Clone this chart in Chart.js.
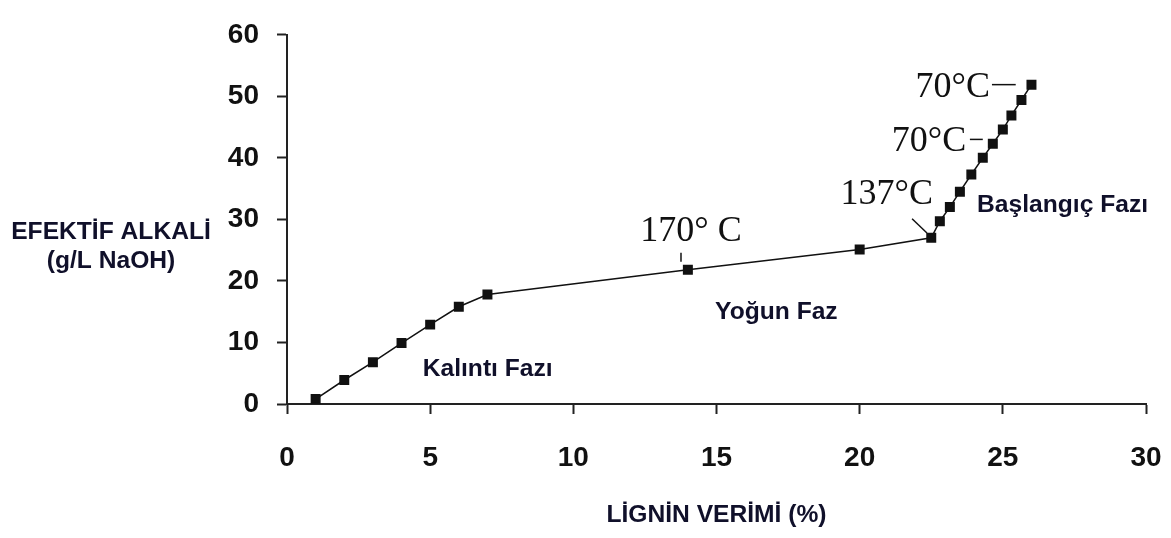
<!DOCTYPE html>
<html>
<head>
<meta charset="utf-8">
<script src="https://cdn.jsdelivr.net/npm/chart.js@4.4.0/dist/chart.umd.min.js"></script>
<style>
  html, body { margin: 0; padding: 0; background: #fff; }
  #wrap { width: 1171px; height: 538px; position: relative; }
</style>
</head>
<body>
<div id="wrap"><canvas id="chart"></canvas></div>
<script>
// --------------------------
// data
// --------------------------
const ligninYield = [1, 2, 3, 4, 5, 6, 7, 14, 20, 22.5, 22.8, 23.15, 23.5, 23.9, 24.3, 24.65, 25.0, 25.3, 25.65, 26.0];
const effAlkali   = [0.8, 3.9, 6.8, 9.9, 12.9, 15.8, 17.8, 21.8, 25.1, 27.0, 29.7, 32.0, 34.5, 37.3, 40.0, 42.3, 44.6, 46.9, 49.4, 51.9];

const xTicks = [0, 5, 10, 15, 20, 25, 30];
const yTicks = [0, 10, 20, 30, 40, 50, 60];

const xTitle = "LİGNİN VERİMİ (%)";
const yTitle = ["EFEKTİF ALKALİ", "(g/L NaOH)"];

// temperature labels (serif) and phase labels (bold sans), in data units
const tempLabels = ["70°C", "70°C", "137°C", "170° C"];
const tempX      = [24.55, 23.72, 22.56, 14.11];
const tempY      = [51.4, 42.7, 34.1, 28.1];
const tempAlign  = ["right", "right", "right", "center"];

// little leader strokes next to the temperature labels: [x1, y1, x2, y2]
const leaders = [
  [24.62, 51.9, 25.45, 51.9],
  [23.85, 43.0, 24.3, 43.0],
  [21.83, 30.1, 22.35, 27.8],
  [13.76, 24.6, 13.76, 23.1]
];

const phaseLabels = ["Başlangıç Fazı", "Yoğun Faz", "Kalıntı Fazı"];
const phaseX      = [24.1, 14.95, 4.74];
const phaseY      = [32.3, 14.8, 5.65];

const SANS = "'Liberation Sans', Arial, sans-serif";

// wide bold text, the reference glyphs are a bit stretched
function wideText(ctx, text, x, y, align) {
  const k = 1.07;
  ctx.save();
  ctx.translate(x, y);
  ctx.scale(k, 1);
  ctx.textAlign = align;
  ctx.fillText(text, 0, 0);
  ctx.restore();
}

// ==========================
// annotation plugin
// ==========================
const notes = {
  id: "notes",
  afterDatasetsDraw(chart) {
    const { ctx, scales, chartArea } = chart;
    const sx = scales.x, sy = scales.y;
    ctx.save();

    ctx.fillStyle = "#111";
    ctx.font = "36px 'Liberation Serif', 'DejaVu Serif', serif";
    ctx.textBaseline = "middle";
    tempLabels.forEach((t, i) => {
      ctx.textAlign = tempAlign[i];
      ctx.fillText(t, sx.getPixelForValue(tempX[i]), sy.getPixelForValue(tempY[i]));
    });

    ctx.strokeStyle = "#111";
    ctx.lineWidth = 1.5;
    leaders.forEach(l => {
      ctx.beginPath();
      ctx.moveTo(sx.getPixelForValue(l[0]), sy.getPixelForValue(l[1]));
      ctx.lineTo(sx.getPixelForValue(l[2]), sy.getPixelForValue(l[3]));
      ctx.stroke();
    });

    ctx.fillStyle = "#10102a";
    ctx.font = "bold 23px " + SANS;
    phaseLabels.forEach((t, i) => {
      wideText(ctx, t, sx.getPixelForValue(phaseX[i]), sy.getPixelForValue(phaseY[i]), "left");
    });

    // horizontal y-axis title on the left
    wideText(ctx, yTitle[0], 111, sy.getPixelForValue(27.9), "center");
    wideText(ctx, yTitle[1], 111, sy.getPixelForValue(23.2), "center");

    // x-axis title under the tick labels
    wideText(ctx, xTitle, (chartArea.left + chartArea.right) / 2, chartArea.bottom + 112, "center");
    ctx.restore();
  }
};

const axisColor = "#222";

new Chart(document.getElementById("chart"), {
  type: "line",
  data: {
    datasets: [{
      data: ligninYield.map((x, i) => ({ x, y: effAlkali[i] })),
      borderColor: "#111",
      backgroundColor: "#111",
      borderWidth: 1.5,
      pointStyle: "rect",
      pointRadius: 6,
      pointHoverRadius: 6,
      tension: 0
    }]
  },
  options: {
    responsive: true,
    maintainAspectRatio: false,
    animation: false,
    layout: { padding: { top: 22, right: 25, left: 0, bottom: 0 } },
    plugins: { legend: { display: false }, tooltip: { enabled: false } },
    scales: {
      x: {
        type: "linear",
        min: 0, max: 30,
        afterBuildTicks: s => { s.ticks = xTicks.map(v => ({ value: v })); },
        afterFit: s => { s.height = 134; s.paddingLeft = 0; s.paddingRight = 0; },
        border: { display: true, color: axisColor, width: 2 },
        grid: { drawOnChartArea: false, drawTicks: true, tickLength: 10, tickColor: axisColor, tickWidth: 2 },
        ticks: {
          color: "#111", padding: 27, maxRotation: 0, minRotation: 0,
          font: { family: SANS, size: 28, weight: "bold" }
        }
      },
      y: {
        type: "linear",
        min: 0, max: 60,
        afterBuildTicks: s => { s.ticks = yTicks.map(v => ({ value: v })); },
        afterFit: s => { s.width = 287; },
        border: { display: true, color: axisColor, width: 2 },
        grid: { drawOnChartArea: false, drawTicks: true, tickLength: 10, tickColor: axisColor, tickWidth: 2 },
        ticks: {
          color: "#111", padding: 18,
          font: { family: SANS, size: 28, weight: "bold" }
        }
      }
    }
  },
  plugins: [notes]
});
</script>
</body>
</html>
